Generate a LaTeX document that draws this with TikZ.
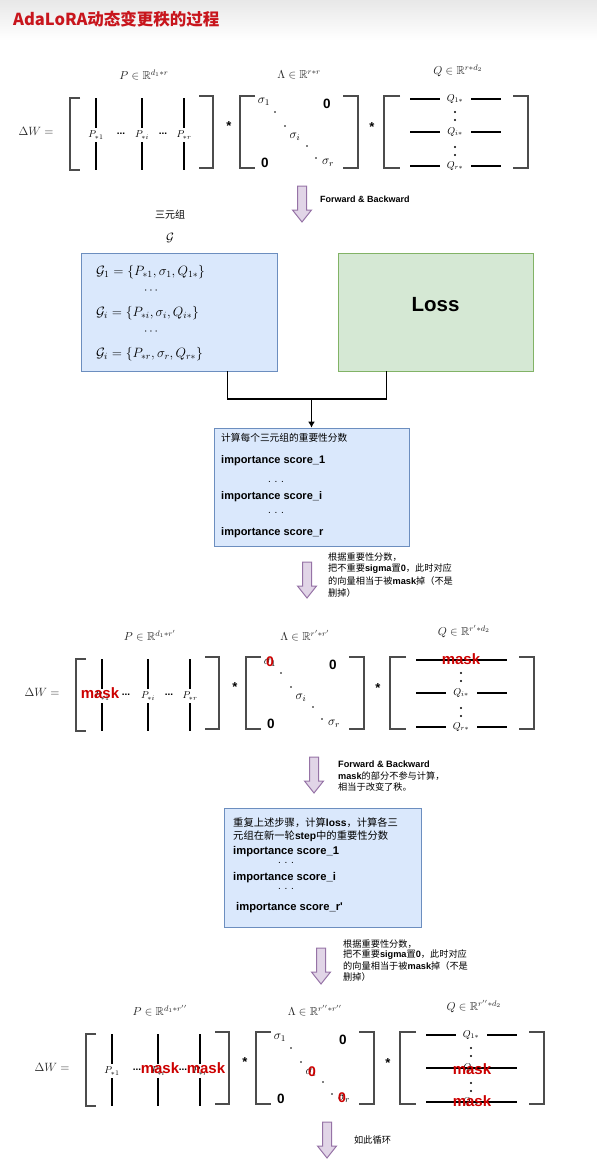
\RequirePackage{fix-cm}
\documentclass[tikz,border=0pt]{standalone}
\usepackage{amsmath,amssymb}
\usepackage{fontspec}
\setmainfont{Liberation Sans}
\newfontfamily\cjk{Noto Sans CJK SC}
\newfontfamily\hv{Liberation Sans}
\usetikzlibrary{arrows.meta,calc}
\definecolor{bluefill}{HTML}{DAE8FC}
\definecolor{blueborder}{HTML}{6C8EBF}
\definecolor{greenfill}{HTML}{D5E8D4}
\definecolor{greenborder}{HTML}{82B366}
\definecolor{arrowfill}{HTML}{E1D5E7}
\definecolor{arrowborder}{HTML}{9673A6}
\definecolor{maskred}{HTML}{CC0000}
\definecolor{titlered}{HTML}{C8161D}
\newcommand\lat[1]{{\hv\bfseries #1}}
\newcommand\matbase[4]{%
 \node[mlbl] (Pl#1) at (74,-22) {#2};
 \node[mlbl] (Ll#1) at (229,-22) {#3};
 \node[mlbl] (Ql#1) at (388,-26) {#4};
 \node[mlbl,font=\fontsize{12}{14}\selectfont] (dW#1) at (-34,34) {$\Delta W =$};
 \draw[brk] (10,1) -- (0,1) -- (0,73) -- (10,73);
 \draw[brk] (129,-1) -- (143,-1) -- (143,71) -- (129,71);
 \foreach \x in {26,72,114} \draw[colline] (\x,1) -- (\x,31) (\x,45) -- (\x,73);
 \node[star] (sa#1) at (159,29) {*};
 \draw[brk] (185,-1) -- (170,-1) -- (170,71) -- (185,71);
 \draw[brk] (273,-1) -- (288,-1) -- (288,71) -- (273,71);
 \node[zero] (zt#1) at (257,7) {0};
 \node[zero] (zb#1) at (195,66) {0};
 \foreach \p in {(205,15),(215,29),(237,49),(246,61)} \fill \p circle (0.9);
 \node[star] (sb#1) at (302,30) {*};
 \draw[brk] (330,-1) -- (314,-1) -- (314,71) -- (330,71);
 \draw[brk] (443,-1) -- (458,-1) -- (458,71) -- (443,71);
 \foreach \y in {15,23,50,58} \fill (385,\y) circle (1.1);
}
\tikzset{pics/downarrow/.style={code={\draw[draw=arrowborder, fill=arrowfill, line width=1pt] (-4.5,0) -- (4.5,0) -- (4.5,24) -- (9.5,24) -- (0,36) -- (-9.5,24) -- (-4.5,24) -- cycle;}}}
\begin{document}
\begin{tikzpicture}[x=1pt,y=-1pt,
 brk/.style={draw=black!70, line width=1.5pt},
 colline/.style={draw=black, line width=1.3pt},
 mlbl/.style={inner sep=0pt, text=black!85, font=\fontsize{11.5}{13}\selectfont},
 sig/.style={inner sep=0pt, font=\fontsize{12.5}{14}\selectfont},
 plbl/.style={inner sep=0pt, font=\fontsize{10}{12}\selectfont},
 hdots/.style={inner sep=0pt, font=\hv\bfseries\fontsize{10}{10}\selectfont},
 star/.style={inner sep=0pt, font=\hv\bfseries\fontsize{13}{13}\selectfont},
 zero/.style={inner sep=0pt, font=\hv\bfseries\fontsize{13.5}{14}\selectfont},
 redmask/.style={inner sep=0pt, text=maskred, font=\hv\bfseries\fontsize{15}{15}\selectfont},
 redzero/.style={inner sep=0pt, text=maskred, font=\hv\bfseries\fontsize{14}{14}\selectfont},
 bbox/.style={draw=blueborder, fill=bluefill, line width=0.8pt, inner sep=0pt},
 gbox/.style={draw=greenborder, fill=greenfill, line width=0.8pt, inner sep=0pt},
 note/.style={inner sep=0pt, anchor=west, font=\cjk\fontsize{9.2}{11}\selectfont},
 imptxt/.style={inner sep=0pt, anchor=west, font=\hv\bfseries\fontsize{11}{13}\selectfont},
 sdots/.style={inner sep=0pt, font=\hv\fontsize{10}{10}\selectfont},
 gtxt/.style={inner sep=0pt, anchor=west, font=\fontsize{13.5}{15}\selectfont},
 conn/.style={draw=black, line width=1.2pt}
]
\useasboundingbox (0,0) rectangle (597,1165);
\fill[top color=black!9, bottom color=white] (0,0) rectangle (597,40);
\node[inner sep=0pt, anchor=west, text=titlered, font=\cjk\bfseries\fontsize{16.5}{18}\selectfont] (title) at (13,19) {AdaLoRA动态变更秩的过程};

% ---------- row 1
\begin{scope}[shift={(70,97)}]
\matbase{a}{$P\in\mathbb{R}^{d_1*r}$}{$\Lambda\in\mathbb{R}^{r*r}$}{$Q\in\mathbb{R}^{r*d_2}$}
\node[plbl] (pa1) at (26,38) {$P_{*1}$};
\node[hdots] (pa2) at (51,37) {...};
\node[plbl] (pa3) at (72,38) {$P_{*i}$};
\node[hdots] (pa4) at (93,37) {...};
\node[plbl] (pa5) at (114,38) {$P_{*r}$};
\node[sig] (ga1) at (194,5) {$\sigma_1$};
\node[sig] (ga2) at (225,40) {$\sigma_i$};
\node[sig] (ga3) at (258,66) {$\sigma_r$};
\draw[colline] (340,2) -- (370,2) (401,2) -- (431,2);
\draw[colline] (340,35) -- (370,35) (401,35) -- (431,35);
\draw[colline] (340,69) -- (370,69) (401,69) -- (431,69);
\node[plbl] (qa1) at (385,2) {$Q_{1*}$};
\node[plbl] (qa2) at (385,35) {$Q_{i*}$};
\node[plbl] (qa3) at (385,69) {$Q_{r*}$};
\end{scope}

\pic (ar1) at (302,186) {downarrow};
\node[imptxt, font=\hv\bfseries\fontsize{9}{11}\selectfont] (t1) at (320,199) {Forward \& Backward};

\node[inner sep=0pt, font=\cjk\fontsize{10}{12}\selectfont] (tri) at (170,215) {三元组};
\node[inner sep=0pt, font=\fontsize{12}{14}\selectfont] (calg) at (170,238) {$\mathcal{G}$};

\node[bbox, minimum width=196pt, minimum height=118pt] (trip) at (179,312) {};
\node[gbox, minimum width=195pt, minimum height=118pt] (loss) at (435.5,312) {};
\node[inner sep=0pt, font=\hv\bfseries\fontsize{20.5}{22}\selectfont] (losst) at (435.5,305) {Loss};
\node[gtxt] (g1) at (96,272) {$\mathcal{G}_1=\{P_{*1},\sigma_1,Q_{1*}\}$};
\node[inner sep=0pt, font=\fontsize{12}{14}\selectfont] (gd1) at (152,291) {$\cdots$};
\node[gtxt] (g2) at (96,313) {$\mathcal{G}_i=\{P_{*i},\sigma_i,Q_{i*}\}$};
\node[inner sep=0pt, font=\fontsize{12}{14}\selectfont] (gd2) at (152,332) {$\cdots$};
\node[gtxt] (g3) at (96,354) {$\mathcal{G}_i=\{P_{*r},\sigma_r,Q_{r*}\}$};

\node[bbox, minimum width=195pt, minimum height=118pt] (imp) at (311.5,487) {};
\coordinate (j) at (311.5,399);
\draw[conn] ($(trip.south west)!0.745!(trip.south east)$) |- (j);
\draw[conn] ($(loss.south west)!0.25!(loss.south east)$) |- (j);
\draw[conn, -{Latex[length=6pt,width=7pt]}] (j) -- (imp.north);

\node[note, font=\cjk\fontsize{9.7}{11}\selectfont] (i0) at (221,438) {计算每个三元组的重要性分数};
\node[imptxt] (i1) at (221,461) {importance score\_1};
\node[sdots] (i2) at (276,482) {. . .};
\node[imptxt] (i3) at (221,497) {importance score\_i};
\node[sdots] (i4) at (276,513) {. . .};
\node[imptxt] (i5) at (221,533) {importance score\_r};

\pic (ar2) at (307,562) {downarrow};
\node[note] (n21) at (328,557) {根据重要性分数，};
\node[note] (n22) at (328,569) {把不重要\lat{sigma}置\lat{0}，此时对应};
\node[note] (n23) at (328,581) {的向量相当于被\lat{mask}掉（不是};
\node[note] (n24) at (328,593) {删掉）};

% ---------- row 2
\begin{scope}[shift={(76,658)}]
\matbase{b}{$P\in\mathbb{R}^{d_1*r'}$}{$\Lambda\in\mathbb{R}^{r'*r'}$}{$Q\in\mathbb{R}^{r'*d_2}$}
\node[plbl] (pb1) at (26,38) {$P_{*1}$};
\node[hdots] (pb2) at (50,37) {...};
\node[plbl] (pb3) at (72,38) {$P_{*i}$};
\node[hdots] (pb4) at (93,37) {...};
\node[plbl] (pb5) at (114,38) {$P_{*r}$};
\node[sig] (gb1) at (194,5) {$\sigma_1$};
\node[sig] (gb2) at (225,40) {$\sigma_i$};
\node[sig] (gb3) at (258,66) {$\sigma_r$};
\draw[colline] (340,2) -- (431,2);
\draw[colline] (340,35) -- (370,35) (401,35) -- (431,35);
\draw[colline] (340,69) -- (370,69) (401,69) -- (431,69);
\node[plbl] (qb2) at (385,35) {$Q_{i*}$};
\node[plbl] (qb3) at (385,69) {$Q_{r*}$};
\node[redmask] (mb1) at (24,35) {mask};
\node[redzero] (rb1) at (194,4) {0};
\node[redmask] (mb2) at (385,1) {mask};
\end{scope}

\pic (ar3) at (314,757) {downarrow};
\node[note] (n31) at (338,764) {\lat{Forward \& Backward}};
\node[note] (n32) at (338,776) {\lat{mask}的部分不参与计算，};
\node[note] (n33) at (338,787) {相当于改变了秩。};

\node[bbox, minimum width=197pt, minimum height=119pt] (rep) at (322.5,867.5) {};
\node[note, font=\cjk\fontsize{10.3}{12}\selectfont] (r0) at (233,823) {重复上述步骤，计算\lat{loss}，计算各三};
\node[note, font=\cjk\fontsize{10.3}{12}\selectfont] (r1) at (233,836) {元组在新一轮\lat{step}中的重要性分数};
\node[imptxt, font=\hv\bfseries\fontsize{11.2}{13}\selectfont] (r2) at (233,852) {importance score\_1};
\node[sdots] (r3) at (286,863) {. . .};
\node[imptxt, font=\hv\bfseries\fontsize{11.2}{13}\selectfont] (r4) at (233,878) {importance score\_i};
\node[sdots] (r5) at (286,889) {. . .};
\node[imptxt, font=\hv\bfseries\fontsize{11.2}{13}\selectfont] (r6) at (236,908) {importance score\_r'};

\pic (ar4) at (321,948) {downarrow};
\node[note] (n41) at (343,944) {根据重要性分数，};
\node[note] (n42) at (343,955) {把不重要\lat{sigma}置\lat{0}，此时对应};
\node[note] (n43) at (343,966) {的向量相当于被\lat{mask}掉（不是};
\node[note] (n44) at (343,977) {删掉）};

% ---------- row 3
\begin{scope}[shift={(86,1033)}]
\matbase{c}{$P\in\mathbb{R}^{d_1*r''}$}{$\Lambda\in\mathbb{R}^{r''*r''}$}{$Q\in\mathbb{R}^{r''*d_2}$}
\node[plbl] (pc1) at (26,38) {$P_{*1}$};
\node[hdots] (pc2) at (51,37) {...};
\node[plbl] (pc3) at (72,38) {$P_{*i}$};
\node[hdots] (pc4) at (97,37) {...};
\node[plbl] (pc5) at (114,38) {$P_{*r}$};
\node[sig] (gc1) at (194,5) {$\sigma_1$};
\node[sig] (gc2) at (225,40) {$\sigma_i$};
\node[sig] (gc3) at (258,66) {$\sigma_r$};
\draw[colline] (340,2) -- (370,2) (401,2) -- (431,2);
\draw[colline] (340,35) -- (431,35);
\draw[colline] (340,69) -- (431,69);
\node[plbl] (qc1) at (385,2) {$Q_{1*}$};
\node[plbl] (qc2) at (385,35) {$Q_{i*}$};
\node[plbl] (qc3) at (385,69) {$Q_{r*}$};
\node[redmask] (mc1) at (74,35) {mask};
\node[redmask] (mc2) at (120,35) {mask};
\node[redzero] (rc1) at (226,39) {0};
\node[redzero] (rc2) at (256,65) {0};
\node[redmask] (mc3) at (386,36) {mask};
\node[redmask] (mc4) at (386,68) {mask};
\end{scope}

\pic (ar5) at (327,1122) {downarrow};
\node[note] (n51) at (354,1140) {如此循环};
\end{tikzpicture}
\end{document}
